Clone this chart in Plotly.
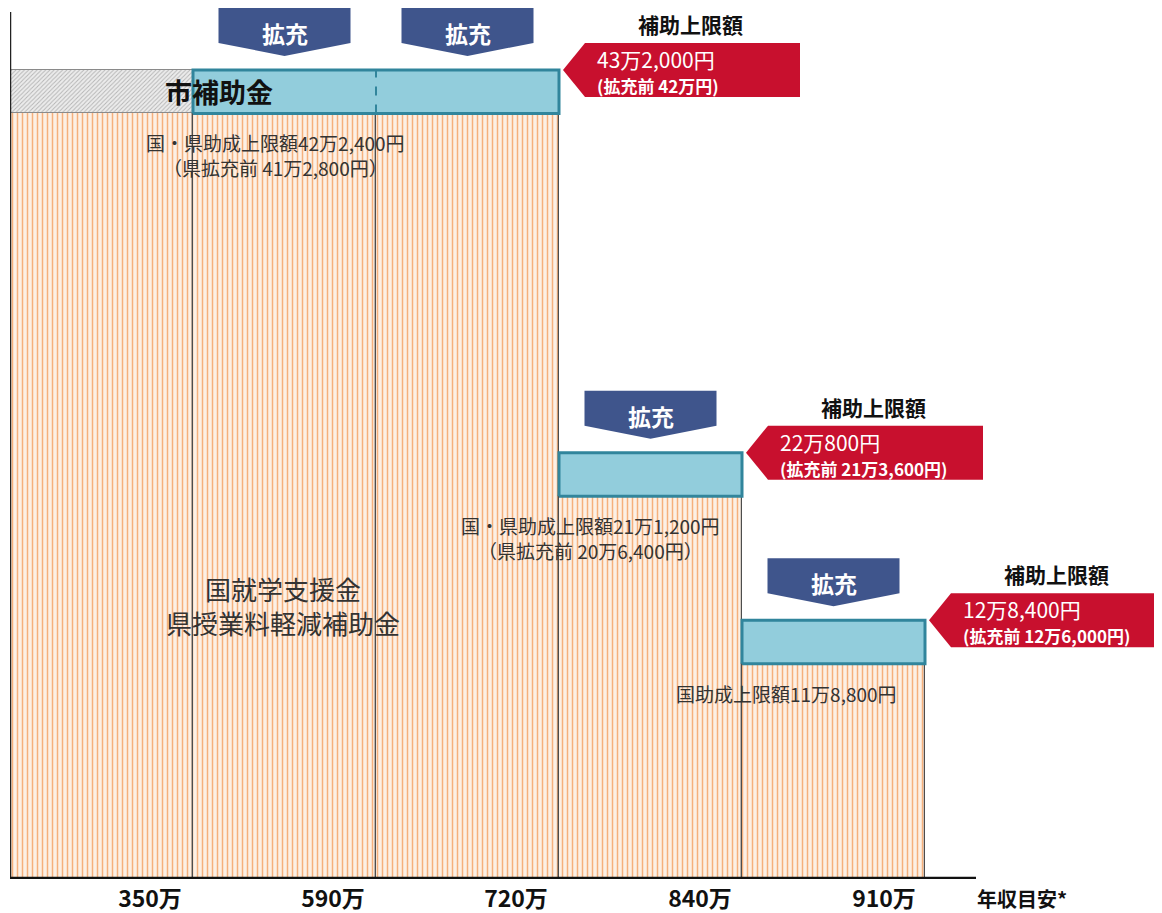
import plotly.graph_objects as go

# ---------------- data ----------------
TICK_LABELS = ["350万", "590万", "720万", "840万", "910万"]
AXIS_TITLE = "年収目安*"
# national/prefectural support limit per income column (yen)
NAT_LIMIT_YEN = [422400, 422400, 422400, 211200, 118800]
# whether the city subsidy for the column was expanded (拡充)
EXPANDED = [False, True, True, True, True]
# groups of columns sharing one city upper limit
GROUP_FIRST_COL = [0, 3, 4]
GROUP_LAST_COL = [2, 3, 4]
CITY_LIMIT_YEN = [432000, 220800, 128400]
CITY_BEFORE_YEN = [420000, 213600, 126000]
NAT_BEFORE_YEN = [412800, 206400, None]
NOTE_PREFIX = ["国・県", "国・県", "国"]
BIG_LABEL = ["国就学支援金", "県授業料軽減補助金"]
CITY_LABEL = "市補助金"
EXPAND_LABEL = "拡充"
LIMIT_TITLE = "補助上限額"

# ---------------- layout constants ----------------
# the html page body has an 8px margin, so the figure sits at (8, 8) of the window
OFF = 8
W, H = 1162 - OFF, 913 - OFF
PLOT_LEFT = 10 - OFF          # page x of the y axis = 10
PLOT_BOTTOM = 879 - OFF       # page y of the x axis = 879
M_L, M_B = PLOT_LEFT, H - PLOT_BOTTOM
PX_X = 183.0      # px per column
PX_Y = 18.125     # px per 万円
X_RIGHT = (W - M_L) / PX_X
Y_TOP = PLOT_BOTTOM / PX_Y
BLOCK_H = 2.4     # schematic height of the city-subsidy block (万円 units)
FONT = "Noto Sans CJK JP"


def ux(px):
    return px / PX_X


def uy(px):
    return px / PX_Y


def pgx(px):
    """page x pixel -> data x"""
    return (px - OFF - M_L) / PX_X


def pgy(py):
    """page y pixel -> data y"""
    return (PLOT_BOTTOM - (py - OFF)) / PX_Y


def man(yen):
    return yen / 10000.0


def fmt(yen):
    m, r = divmod(int(yen), 10000)
    return f"{m}万{r:,}円" if r else f"{m}万円"


nat = [man(v) for v in NAT_LIMIT_YEN]
ncol = len(nat)
xc = [i + 0.5 for i in range(ncol)]

fig = go.Figure()

# orange bars: national / prefectural support
fig.add_trace(go.Bar(
    x=xc, y=nat, width=[1] * ncol,
    marker=dict(color="#fcf0e5",
                pattern=dict(shape="|", fgcolor="#f5b07c", bgcolor="#fcf0e5",
                             size=5, solidity=0.3, fillmode="replace"),
                line=dict(color="#4d4d4d", width=1.2)),
    hoverinfo="skip", showlegend=False))

# gray hatched (not expanded) city block
gx = [xc[i] for i in range(ncol) if not EXPANDED[i]]
gb = [nat[i] for i in range(ncol) if not EXPANDED[i]]
fig.add_trace(go.Bar(
    x=gx, y=[BLOCK_H] * len(gx), base=gb, width=[1] * len(gx),
    marker=dict(color="#e9e9e9",
                pattern=dict(shape="/", fgcolor="#b4b4b4", bgcolor="#ececec",
                             size=3, solidity=0.3, fillmode="replace"),
                line=dict(color="#8a8a8a", width=1)),
    hoverinfo="skip", showlegend=False))

# teal expanded city blocks
tx = [xc[i] for i in range(ncol) if EXPANDED[i]]
tb = [nat[i] for i in range(ncol) if EXPANDED[i]]
fig.add_trace(go.Bar(
    x=tx, y=[BLOCK_H] * len(tx), base=tb, width=[1] * len(tx),
    marker=dict(color="#92cddc", line=dict(width=0)),
    hoverinfo="skip", showlegend=False))

TEAL_LINE = "#31859c"
for g in range(len(GROUP_FIRST_COL)):
    cols = [c for c in range(GROUP_FIRST_COL[g], GROUP_LAST_COL[g] + 1) if EXPANDED[c]]
    x0, x1 = min(cols), max(cols) + 1
    y0 = nat[cols[0]]
    y1 = y0 + BLOCK_H
    fig.add_trace(go.Scatter(x=[x0, x1, x1, x0, x0], y=[y0, y0, y1, y1, y0],
                             mode="lines", line=dict(color=TEAL_LINE, width=3),
                             hoverinfo="skip", showlegend=False))
    for b in range(x0 + 1, x1):
        fig.add_trace(go.Scatter(x=[b, b], y=[y0, y1], mode="lines",
                                 line=dict(color=TEAL_LINE, width=2, dash="dash"),
                                 hoverinfo="skip", showlegend=False))

# axis lines
fig.add_trace(go.Scatter(x=[0, 0], y=[0, pgy(12)], mode="lines",
                         line=dict(color="#222", width=2.5), hoverinfo="skip", showlegend=False))
fig.add_trace(go.Scatter(x=[pgx(8), pgx(976)], y=[0, 0], mode="lines",
                         line=dict(color="#111", width=4.5), hoverinfo="skip", showlegend=False))

shapes = []
ann = []

# 拡充 arrows
ARROW = "#3f558c"
for c in range(ncol):
    if not EXPANDED[c]:
        continue
    T = nat[c] + BLOCK_H
    hw = ux(66)
    xl, xr, xm = xc[c] - hw, xc[c] + hw, xc[c]
    top, bb, tip = T + uy(62), T + uy(27), T + uy(14)
    shapes.append(dict(type="path", xref="x", yref="y",
                       path=f"M {xl},{top} L {xr},{top} L {xr},{bb} L {xm},{tip} L {xl},{bb} Z",
                       fillcolor=ARROW, line=dict(width=0), layer="above"))
    ann.append(dict(x=xm, y=T + uy(37), text=EXPAND_LABEL, showarrow=False,
                    font=dict(family=FONT, size=23, color="white", weight="bold")))

# red callouts
RED = "#c8102e"
for g in range(len(GROUP_FIRST_COL)):
    xr_ = GROUP_LAST_COL[g] + 1
    T = man(NAT_LIMIT_YEN[GROUP_LAST_COL[g]]) + BLOCK_H
    tip = xr_ + ux(4)
    rl = xr_ + ux(26)
    rr = rl + ux(215)
    hh = uy(27)
    shapes.append(dict(type="path", xref="x", yref="y",
                       path=f"M {tip},{T} L {rl},{T + hh} L {rr},{T + hh} L {rr},{T - hh} L {rl},{T - hh} Z",
                       fillcolor=RED, line=dict(width=0), layer="above"))
    ann.append(dict(x=(rl + rr) / 2 - ux(2), y=T + uy(46), text=LIMIT_TITLE, showarrow=False,
                    font=dict(family=FONT, size=21, color="#111", weight="bold")))
    ann.append(dict(x=rl + ux(10), y=T - uy(1), xanchor="left", yanchor="middle",
                    text=(f"<span style='font-size:21px'>{fmt(CITY_LIMIT_YEN[g])}</span><br>"
                          f"<span style='font-size:17px'><b>(拡充前 {fmt(CITY_BEFORE_YEN[g])})</b></span>"),
                    showarrow=False, align="left",
                    font=dict(family=FONT, size=19, color="white")))

# notes under orange tops
NOTE_X = [pgx(275), pgx(590), pgx(786)]
for g in range(len(GROUP_FIRST_COL)):
    top = man(NAT_LIMIT_YEN[GROUP_LAST_COL[g]])
    lines = [f"{NOTE_PREFIX[g]}助成上限額{fmt(NAT_LIMIT_YEN[GROUP_LAST_COL[g]])}"]
    if NAT_BEFORE_YEN[g] is not None:
        lines.append(f"（県拡充前 {fmt(NAT_BEFORE_YEN[g])}）")
    ann.append(dict(x=NOTE_X[g], y=top - uy(14), yanchor="top",
                    text="<br>".join(lines), showarrow=False,
                    font=dict(family=FONT, size=19, color="#333")))

# city label
ann.append(dict(x=pgx(219), y=nat[0] + BLOCK_H / 2, text=CITY_LABEL, showarrow=False,
                font=dict(family=FONT, size=27, color="#111", weight="bold")))

# big labels
ann.append(dict(x=pgx(283), y=pgy(605), text="<br>".join(BIG_LABEL), showarrow=False,
                font=dict(family=FONT, size=26, color="#333")))

# axis title
ann.append(dict(x=pgx(1022), y=0, yshift=-19, text=AXIS_TITLE, showarrow=False,
                font=dict(family=FONT, size=20, color="#111", weight="bold")))

fig.update_layout(
    width=W, height=H,
    margin=dict(l=M_L, r=0, t=0, b=M_B, autoexpand=False),
    paper_bgcolor="white", plot_bgcolor="white",
    barmode="overlay", bargap=0,
    showlegend=False, hovermode=False,
    shapes=shapes, annotations=ann,
    xaxis=dict(range=[0, X_RIGHT], showgrid=False, zeroline=False, showline=False,
               tickvals=[pgx(150), pgx(333), pgx(516), pgx(700), pgx(884)], ticktext=TICK_LABELS,
               ticks="", ticklabelstandoff=4,
               tickfont=dict(family=FONT, size=23, color="#111", weight="bold")),
    yaxis=dict(range=[0, Y_TOP], visible=False),
)

fig.write_html("out.html")
